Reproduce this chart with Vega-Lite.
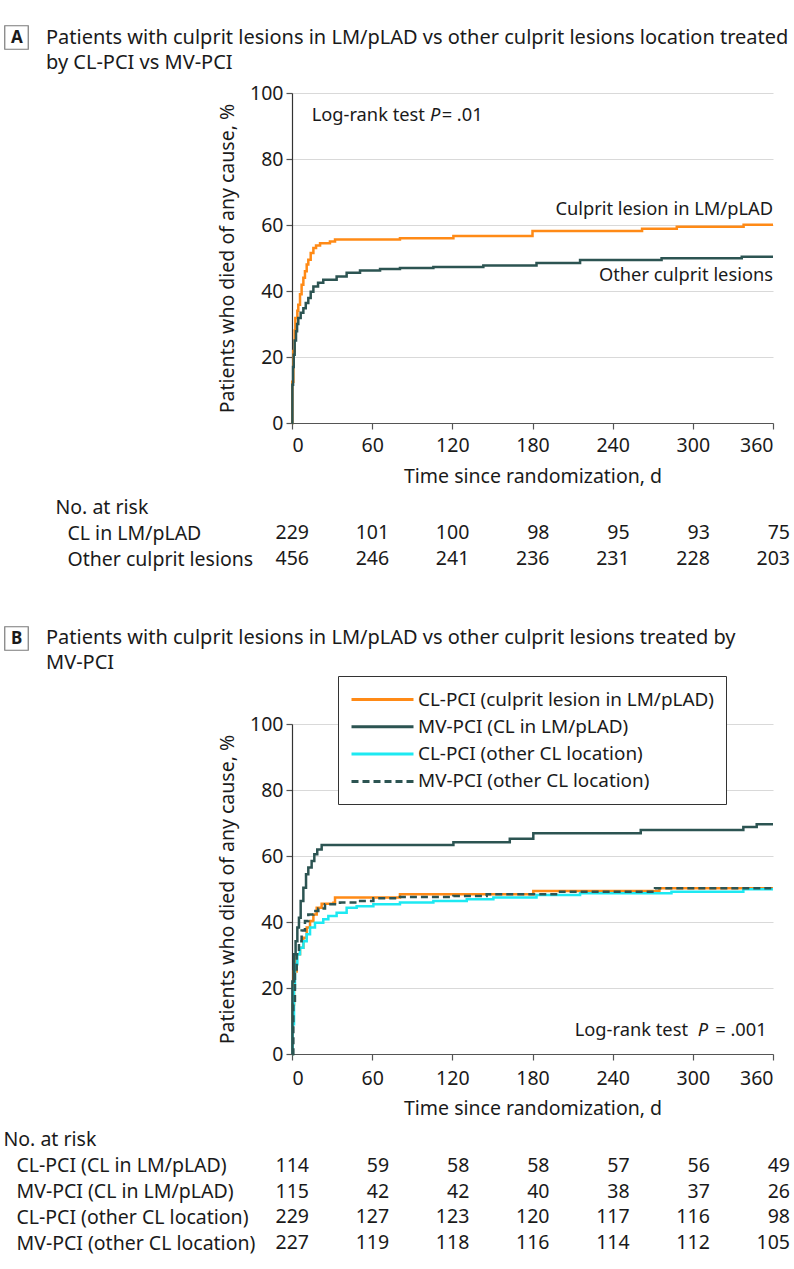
{
  "$schema": "https://vega.github.io/schema/vega-lite/v6.json",
  "background": "white",
  "padding": {"left": 3, "top": 25, "right": 5, "bottom": 5},
  "config": {
    "font": "Noto Sans",
    "view": {"stroke": null},
    "axis": {"labelFontSize": 19.5, "titleFontSize": 19.5, "titleFontWeight": "normal", "labelColor": "#1a1a1a", "titleColor": "#1a1a1a", "domainColor": "#555", "tickColor": "#555", "tickSize": 6, "gridColor": "#d9d9d9", "domainWidth": 1.2, "tickWidth": 1.2},
    "text": {"fontSize": 19.5, "color": "#1a1a1a"},
    "title": {"fontSize": 20, "fontWeight": "normal", "color": "#1a1a1a"},
    "legend": {"labelFontSize": 18.9, "labelColor": "#1a1a1a"}
  },
  "datasets": {
    "kmA": [
      {"group": "Culprit lesion in LM/pLAD", "day": 0, "pct": 0},
      {"group": "Culprit lesion in LM/pLAD", "day": 0.2, "pct": 12.5},
      {"group": "Culprit lesion in LM/pLAD", "day": 1, "pct": 21.8},
      {"group": "Culprit lesion in LM/pLAD", "day": 2, "pct": 28},
      {"group": "Culprit lesion in LM/pLAD", "day": 2.5, "pct": 31.8},
      {"group": "Culprit lesion in LM/pLAD", "day": 4, "pct": 34},
      {"group": "Culprit lesion in LM/pLAD", "day": 4.7, "pct": 35.8},
      {"group": "Culprit lesion in LM/pLAD", "day": 6, "pct": 39},
      {"group": "Culprit lesion in LM/pLAD", "day": 7.2, "pct": 41.9},
      {"group": "Culprit lesion in LM/pLAD", "day": 8.5, "pct": 44},
      {"group": "Culprit lesion in LM/pLAD", "day": 9.7, "pct": 46},
      {"group": "Culprit lesion in LM/pLAD", "day": 11, "pct": 48},
      {"group": "Culprit lesion in LM/pLAD", "day": 12.2, "pct": 49.5},
      {"group": "Culprit lesion in LM/pLAD", "day": 14, "pct": 51.5},
      {"group": "Culprit lesion in LM/pLAD", "day": 16, "pct": 53},
      {"group": "Culprit lesion in LM/pLAD", "day": 18, "pct": 53.8},
      {"group": "Culprit lesion in LM/pLAD", "day": 21, "pct": 54.5},
      {"group": "Culprit lesion in LM/pLAD", "day": 28.4, "pct": 55},
      {"group": "Culprit lesion in LM/pLAD", "day": 32.2, "pct": 55.6},
      {"group": "Culprit lesion in LM/pLAD", "day": 80.8, "pct": 56},
      {"group": "Culprit lesion in LM/pLAD", "day": 120.8, "pct": 56.7},
      {"group": "Culprit lesion in LM/pLAD", "day": 180, "pct": 58.2},
      {"group": "Culprit lesion in LM/pLAD", "day": 262, "pct": 58.9},
      {"group": "Culprit lesion in LM/pLAD", "day": 288, "pct": 59.5},
      {"group": "Culprit lesion in LM/pLAD", "day": 338, "pct": 60.1},
      {"group": "Culprit lesion in LM/pLAD", "day": 360, "pct": 60.1},
      {"group": "Other culprit lesions", "day": 0, "pct": 0},
      {"group": "Other culprit lesions", "day": 0.3, "pct": 11.6},
      {"group": "Other culprit lesions", "day": 0.8, "pct": 17},
      {"group": "Other culprit lesions", "day": 1.3, "pct": 20.7},
      {"group": "Other culprit lesions", "day": 2, "pct": 25},
      {"group": "Other culprit lesions", "day": 3, "pct": 27.8},
      {"group": "Other culprit lesions", "day": 3.8, "pct": 30},
      {"group": "Other culprit lesions", "day": 4.7, "pct": 31.8},
      {"group": "Other culprit lesions", "day": 6.5, "pct": 33.4},
      {"group": "Other culprit lesions", "day": 8.5, "pct": 34.8},
      {"group": "Other culprit lesions", "day": 10.3, "pct": 36.4},
      {"group": "Other culprit lesions", "day": 12.2, "pct": 37.9},
      {"group": "Other culprit lesions", "day": 14, "pct": 39.8},
      {"group": "Other culprit lesions", "day": 16, "pct": 41.4},
      {"group": "Other culprit lesions", "day": 19.5, "pct": 42.5},
      {"group": "Other culprit lesions", "day": 23.4, "pct": 43.4},
      {"group": "Other culprit lesions", "day": 33.4, "pct": 44.4},
      {"group": "Other culprit lesions", "day": 40.9, "pct": 45.5},
      {"group": "Other culprit lesions", "day": 50.9, "pct": 46.2},
      {"group": "Other culprit lesions", "day": 65.9, "pct": 46.7},
      {"group": "Other culprit lesions", "day": 80.8, "pct": 47},
      {"group": "Other culprit lesions", "day": 105.8, "pct": 47.3},
      {"group": "Other culprit lesions", "day": 143.2, "pct": 47.7},
      {"group": "Other culprit lesions", "day": 183, "pct": 48.5},
      {"group": "Other culprit lesions", "day": 215.6, "pct": 49.4},
      {"group": "Other culprit lesions", "day": 276.6, "pct": 49.9},
      {"group": "Other culprit lesions", "day": 336.6, "pct": 50.4},
      {"group": "Other culprit lesions", "day": 360, "pct": 50.4}
    ],
    "riskA": [
      {"group": "CL in LM/pLAD", "day": 0, "n": 229},
      {"group": "CL in LM/pLAD", "day": 60, "n": 101},
      {"group": "CL in LM/pLAD", "day": 120, "n": 100},
      {"group": "CL in LM/pLAD", "day": 180, "n": 98},
      {"group": "CL in LM/pLAD", "day": 240, "n": 95},
      {"group": "CL in LM/pLAD", "day": 300, "n": 93},
      {"group": "CL in LM/pLAD", "day": 360, "n": 75},
      {"group": "Other culprit lesions", "day": 0, "n": 456},
      {"group": "Other culprit lesions", "day": 60, "n": 246},
      {"group": "Other culprit lesions", "day": 120, "n": 241},
      {"group": "Other culprit lesions", "day": 180, "n": 236},
      {"group": "Other culprit lesions", "day": 240, "n": 231},
      {"group": "Other culprit lesions", "day": 300, "n": 228},
      {"group": "Other culprit lesions", "day": 360, "n": 203}
    ],
    "kmB": [
      {"group": "CL-PCI (culprit lesion in LM/pLAD)", "day": 0, "pct": 0},
      {"group": "CL-PCI (culprit lesion in LM/pLAD)", "day": 0.5, "pct": 15},
      {"group": "CL-PCI (culprit lesion in LM/pLAD)", "day": 1.5, "pct": 25},
      {"group": "CL-PCI (culprit lesion in LM/pLAD)", "day": 3.5, "pct": 30.2},
      {"group": "CL-PCI (culprit lesion in LM/pLAD)", "day": 6, "pct": 32.2},
      {"group": "CL-PCI (culprit lesion in LM/pLAD)", "day": 8.5, "pct": 35.2},
      {"group": "CL-PCI (culprit lesion in LM/pLAD)", "day": 11, "pct": 38.3},
      {"group": "CL-PCI (culprit lesion in LM/pLAD)", "day": 13.5, "pct": 40.3},
      {"group": "CL-PCI (culprit lesion in LM/pLAD)", "day": 16, "pct": 42.3},
      {"group": "CL-PCI (culprit lesion in LM/pLAD)", "day": 18.5, "pct": 44.3},
      {"group": "CL-PCI (culprit lesion in LM/pLAD)", "day": 22.2, "pct": 45.5},
      {"group": "CL-PCI (culprit lesion in LM/pLAD)", "day": 31, "pct": 45.8},
      {"group": "CL-PCI (culprit lesion in LM/pLAD)", "day": 32.2, "pct": 47.4},
      {"group": "CL-PCI (culprit lesion in LM/pLAD)", "day": 80.8, "pct": 48.4},
      {"group": "CL-PCI (culprit lesion in LM/pLAD)", "day": 180.6, "pct": 49.4},
      {"group": "CL-PCI (culprit lesion in LM/pLAD)", "day": 275, "pct": 50.2},
      {"group": "CL-PCI (culprit lesion in LM/pLAD)", "day": 360, "pct": 50.2},
      {"group": "CL-PCI (other CL location)", "day": 0, "pct": 0},
      {"group": "CL-PCI (other CL location)", "day": 0.5, "pct": 9},
      {"group": "CL-PCI (other CL location)", "day": 1.5, "pct": 20},
      {"group": "CL-PCI (other CL location)", "day": 2.2, "pct": 27.2},
      {"group": "CL-PCI (other CL location)", "day": 4, "pct": 30.2},
      {"group": "CL-PCI (other CL location)", "day": 6, "pct": 32.2},
      {"group": "CL-PCI (other CL location)", "day": 8.5, "pct": 34.2},
      {"group": "CL-PCI (other CL location)", "day": 11, "pct": 36.3},
      {"group": "CL-PCI (other CL location)", "day": 13.5, "pct": 38.3},
      {"group": "CL-PCI (other CL location)", "day": 17.2, "pct": 39.8},
      {"group": "CL-PCI (other CL location)", "day": 23.4, "pct": 40.8},
      {"group": "CL-PCI (other CL location)", "day": 27.2, "pct": 41.8},
      {"group": "CL-PCI (other CL location)", "day": 33.4, "pct": 42.8},
      {"group": "CL-PCI (other CL location)", "day": 40.9, "pct": 44.3},
      {"group": "CL-PCI (other CL location)", "day": 48.4, "pct": 44.8},
      {"group": "CL-PCI (other CL location)", "day": 60.9, "pct": 45.4},
      {"group": "CL-PCI (other CL location)", "day": 80.8, "pct": 45.9},
      {"group": "CL-PCI (other CL location)", "day": 105.8, "pct": 46.4},
      {"group": "CL-PCI (other CL location)", "day": 130.8, "pct": 46.9},
      {"group": "CL-PCI (other CL location)", "day": 150.7, "pct": 47.4},
      {"group": "CL-PCI (other CL location)", "day": 183, "pct": 48.2},
      {"group": "CL-PCI (other CL location)", "day": 215.6, "pct": 48.7},
      {"group": "CL-PCI (other CL location)", "day": 284, "pct": 49.2},
      {"group": "CL-PCI (other CL location)", "day": 337.8, "pct": 49.9},
      {"group": "CL-PCI (other CL location)", "day": 360, "pct": 49.9},
      {"group": "MV-PCI (other CL location)", "day": 0, "pct": 0},
      {"group": "MV-PCI (other CL location)", "day": 1, "pct": 15},
      {"group": "MV-PCI (other CL location)", "day": 2.2, "pct": 25.2},
      {"group": "MV-PCI (other CL location)", "day": 3.5, "pct": 30.2},
      {"group": "MV-PCI (other CL location)", "day": 5.2, "pct": 34.2},
      {"group": "MV-PCI (other CL location)", "day": 7.2, "pct": 37.4},
      {"group": "MV-PCI (other CL location)", "day": 9.7, "pct": 40.3},
      {"group": "MV-PCI (other CL location)", "day": 12.2, "pct": 42.3},
      {"group": "MV-PCI (other CL location)", "day": 16, "pct": 43.3},
      {"group": "MV-PCI (other CL location)", "day": 19.7, "pct": 44.1},
      {"group": "MV-PCI (other CL location)", "day": 24.7, "pct": 45.4},
      {"group": "MV-PCI (other CL location)", "day": 35.9, "pct": 45.9},
      {"group": "MV-PCI (other CL location)", "day": 48.4, "pct": 46.4},
      {"group": "MV-PCI (other CL location)", "day": 60.9, "pct": 47.2},
      {"group": "MV-PCI (other CL location)", "day": 80.8, "pct": 47.6},
      {"group": "MV-PCI (other CL location)", "day": 120.8, "pct": 47.9},
      {"group": "MV-PCI (other CL location)", "day": 145.7, "pct": 48.4},
      {"group": "MV-PCI (other CL location)", "day": 200.6, "pct": 49.2},
      {"group": "MV-PCI (other CL location)", "day": 271.7, "pct": 50.2},
      {"group": "MV-PCI (other CL location)", "day": 360, "pct": 50.2},
      {"group": "MV-PCI (CL in LM/pLAD)", "day": 0, "pct": 0},
      {"group": "MV-PCI (CL in LM/pLAD)", "day": 0.3, "pct": 22},
      {"group": "MV-PCI (CL in LM/pLAD)", "day": 1.7, "pct": 30.2},
      {"group": "MV-PCI (CL in LM/pLAD)", "day": 2.7, "pct": 34.2},
      {"group": "MV-PCI (CL in LM/pLAD)", "day": 4, "pct": 38.3},
      {"group": "MV-PCI (CL in LM/pLAD)", "day": 5.2, "pct": 41.3},
      {"group": "MV-PCI (CL in LM/pLAD)", "day": 6.5, "pct": 46.4},
      {"group": "MV-PCI (CL in LM/pLAD)", "day": 8.5, "pct": 50.4},
      {"group": "MV-PCI (CL in LM/pLAD)", "day": 10.5, "pct": 54.5},
      {"group": "MV-PCI (CL in LM/pLAD)", "day": 12.2, "pct": 56.5},
      {"group": "MV-PCI (CL in LM/pLAD)", "day": 14.7, "pct": 58.5},
      {"group": "MV-PCI (CL in LM/pLAD)", "day": 16.7, "pct": 60.5},
      {"group": "MV-PCI (CL in LM/pLAD)", "day": 18.9, "pct": 62},
      {"group": "MV-PCI (CL in LM/pLAD)", "day": 22.2, "pct": 63.3},
      {"group": "MV-PCI (CL in LM/pLAD)", "day": 120.8, "pct": 64.2},
      {"group": "MV-PCI (CL in LM/pLAD)", "day": 163, "pct": 65.2},
      {"group": "MV-PCI (CL in LM/pLAD)", "day": 180.6, "pct": 66.9},
      {"group": "MV-PCI (CL in LM/pLAD)", "day": 261, "pct": 67.9},
      {"group": "MV-PCI (CL in LM/pLAD)", "day": 337.8, "pct": 68.8},
      {"group": "MV-PCI (CL in LM/pLAD)", "day": 347.8, "pct": 69.6},
      {"group": "MV-PCI (CL in LM/pLAD)", "day": 360, "pct": 69.6}
    ],
    "riskB": [
      {"group": "CL-PCI (CL in LM/pLAD)", "day": 0, "n": 114},
      {"group": "CL-PCI (CL in LM/pLAD)", "day": 60, "n": 59},
      {"group": "CL-PCI (CL in LM/pLAD)", "day": 120, "n": 58},
      {"group": "CL-PCI (CL in LM/pLAD)", "day": 180, "n": 58},
      {"group": "CL-PCI (CL in LM/pLAD)", "day": 240, "n": 57},
      {"group": "CL-PCI (CL in LM/pLAD)", "day": 300, "n": 56},
      {"group": "CL-PCI (CL in LM/pLAD)", "day": 360, "n": 49},
      {"group": "MV-PCI (CL in LM/pLAD)", "day": 0, "n": 115},
      {"group": "MV-PCI (CL in LM/pLAD)", "day": 60, "n": 42},
      {"group": "MV-PCI (CL in LM/pLAD)", "day": 120, "n": 42},
      {"group": "MV-PCI (CL in LM/pLAD)", "day": 180, "n": 40},
      {"group": "MV-PCI (CL in LM/pLAD)", "day": 240, "n": 38},
      {"group": "MV-PCI (CL in LM/pLAD)", "day": 300, "n": 37},
      {"group": "MV-PCI (CL in LM/pLAD)", "day": 360, "n": 26},
      {"group": "CL-PCI (other CL location)", "day": 0, "n": 229},
      {"group": "CL-PCI (other CL location)", "day": 60, "n": 127},
      {"group": "CL-PCI (other CL location)", "day": 120, "n": 123},
      {"group": "CL-PCI (other CL location)", "day": 180, "n": 120},
      {"group": "CL-PCI (other CL location)", "day": 240, "n": 117},
      {"group": "CL-PCI (other CL location)", "day": 300, "n": 116},
      {"group": "CL-PCI (other CL location)", "day": 360, "n": 98},
      {"group": "MV-PCI (other CL location)", "day": 0, "n": 227},
      {"group": "MV-PCI (other CL location)", "day": 60, "n": 119},
      {"group": "MV-PCI (other CL location)", "day": 120, "n": 118},
      {"group": "MV-PCI (other CL location)", "day": 180, "n": 116},
      {"group": "MV-PCI (other CL location)", "day": 240, "n": 114},
      {"group": "MV-PCI (other CL location)", "day": 300, "n": 112},
      {"group": "MV-PCI (other CL location)", "day": 360, "n": 105}
    ]
  },
  "spacing": 54,
  "resolve": {"scale": {"color": "independent", "strokeDash": "independent"}, "legend": {"color": "independent", "strokeDash": "independent"}},
  "vconcat": [
    {
      "spacing": 8,
      "resolve": {"scale": {"color": "independent", "strokeDash": "independent"}, "legend": {"color": "independent", "strokeDash": "independent"}},
      "vconcat": [
        {
          "width": 481,
          "height": 330,
          "title": {"text": ["Patients with culprit lesions in LM/pLAD vs other culprit lesions location treated", "by CL-PCI vs MV-PCI"], "anchor": "start", "frame": "group", "dx": -246, "offset": -48, "lineHeight": 25},
          "resolve": {"scale": {"color": "independent", "strokeDash": "independent"}, "legend": {"color": "independent", "strokeDash": "independent"}},
          "layer": [
            {
              "data": {"name": "kmA"},
              "mark": {"type": "line", "interpolate": "step-after", "strokeWidth": 2.5},
              "encoding": {
                "x": {"field": "day", "type": "quantitative", "title": "Time since randomization, d", "scale": {"domain": [0, 360], "nice": false}, "axis": {"values": [0, 60, 120, 180, 240, 300, 360], "grid": false, "labelPadding": 7, "titlePadding": 13}},
                "y": {"field": "pct", "type": "quantitative", "title": "Patients who died of any cause, %", "scale": {"domain": [0, 100], "nice": false}, "axis": {"values": [0, 20, 40, 60, 80, 100], "grid": true, "labelPadding": 3, "titlePadding": 12, "domainColor": "#333"}},
                "color": {"field": "group", "type": "nominal", "scale": {"domain": ["Culprit lesion in LM/pLAD", "Other culprit lesions"], "range": ["#ff8a16", "#2c5452"]}, "legend": null}
              }
            },
            {
              "data": {"values": []},
              "mark": {"type": "point", "filled": false},
              "encoding": {
                "color": {"datum": "A", "type": "nominal", "scale": {"range": ["#444444"]}, "legend": {"title": null, "orient": "none", "legendX": -288, "legendY": -68, "padding": 0, "symbolType": "square", "symbolSize": 552, "symbolStrokeWidth": 1.2, "symbolFillColor": "white", "labelOffset": -18, "labelFontSize": 17, "labelFontWeight": "bold"}}
              }
            },
            {
              "data": {"values": [{}]},
              "mark": {"type": "text", "text": "Log-rank test", "align": "left", "baseline": "middle", "fontSize": 18.3},
              "encoding": {"x": {"datum": 14.7, "type": "quantitative"}, "y": {"datum": 93, "type": "quantitative"}}
            },
            {
              "data": {"values": [{}]},
              "mark": {"type": "text", "text": "P", "align": "left", "baseline": "middle", "fontStyle": "italic", "fontSize": 18.3},
              "encoding": {"x": {"datum": 103.3, "type": "quantitative"}, "y": {"datum": 93, "type": "quantitative"}}
            },
            {
              "data": {"values": [{}]},
              "mark": {"type": "text", "text": "= .01", "align": "left", "baseline": "middle", "fontSize": 18.3},
              "encoding": {"x": {"datum": 112, "type": "quantitative"}, "y": {"datum": 93, "type": "quantitative"}}
            },
            {
              "data": {"values": [{}]},
              "mark": {"type": "text", "text": "Culprit lesion in LM/pLAD", "align": "right", "baseline": "middle", "fontSize": 18.3},
              "encoding": {"x": {"datum": 360, "type": "quantitative"}, "y": {"datum": 64.6, "type": "quantitative"}}
            },
            {
              "data": {"values": [{}]},
              "mark": {"type": "text", "text": "Other culprit lesions", "align": "right", "baseline": "middle", "fontSize": 18.3},
              "encoding": {"x": {"datum": 360, "type": "quantitative"}, "y": {"datum": 44.4, "type": "quantitative"}}
            }
          ]
        },
        {
          "width": 481,
          "height": 78,
          "data": {"name": "riskA"},
          "mark": {"type": "text", "align": "right", "baseline": "middle", "dx": 17},
          "encoding": {
            "x": {"field": "day", "type": "quantitative", "scale": {"domain": [0, 360], "nice": false}, "axis": null},
            "y": {"field": "group", "type": "nominal", "title": null, "scale": {"domain": ["No. at risk", "CL in LM/pLAD", "Other culprit lesions"]}, "axis": {"domain": false, "ticks": false, "labelAlign": "left", "labelLimit": 300, "labelPadding": {"condition": {"test": "datum.value == 'No. at risk'", "value": 237}, "value": 225}}},
            "text": {"field": "n", "type": "quantitative"}
          }
        }
      ]
    },
    {
      "spacing": 9,
      "resolve": {"scale": {"color": "independent", "strokeDash": "independent"}, "legend": {"color": "independent", "strokeDash": "independent"}},
      "vconcat": [
        {
          "width": 481,
          "height": 330,
          "title": {"text": ["Patients with culprit lesions in LM/pLAD vs other culprit lesions treated by", "MV-PCI"], "anchor": "start", "frame": "group", "dx": -246, "offset": -47, "lineHeight": 25},
          "resolve": {"scale": {"color": "independent", "strokeDash": "independent"}, "legend": {"color": "independent", "strokeDash": "independent"}},
          "layer": [
            {
              "data": {"name": "kmB"},
              "mark": {"type": "line", "interpolate": "step-after", "strokeWidth": 2.5},
              "encoding": {
                "x": {"field": "day", "type": "quantitative", "title": "Time since randomization, d", "scale": {"domain": [0, 360], "nice": false}, "axis": {"values": [0, 60, 120, 180, 240, 300, 360], "grid": false, "labelPadding": 9, "titlePadding": 12}},
                "y": {"field": "pct", "type": "quantitative", "title": "Patients who died of any cause, %", "scale": {"domain": [0, 100], "nice": false}, "axis": {"values": [0, 20, 40, 60, 80, 100], "grid": true, "labelPadding": 3, "titlePadding": 12, "domainColor": "#333"}},
                "color": {"field": "group", "type": "nominal", "title": null, "scale": {"domain": ["CL-PCI (culprit lesion in LM/pLAD)", "MV-PCI (CL in LM/pLAD)", "CL-PCI (other CL location)", "MV-PCI (other CL location)"], "range": ["#ff8a16", "#2c5452", "#1de9f2", "#2c5452"]}, "legend": {"orient": "none", "legendX": 46, "legendY": -48, "strokeColor": "#333", "fillColor": "white", "padding": 12, "symbolType": "M-1,0H5.2", "symbolSize": 400, "symbolStrokeWidth": 3, "labelOffset": 45, "labelLimit": 400, "rowPadding": 5.3}},
                "strokeDash": {"field": "group", "type": "nominal", "title": null, "scale": {"domain": ["CL-PCI (culprit lesion in LM/pLAD)", "MV-PCI (CL in LM/pLAD)", "CL-PCI (other CL location)", "MV-PCI (other CL location)"], "range": [[1, 0], [1, 0], [1, 0], [7, 4]]}, "legend": {"orient": "none", "legendX": 46, "legendY": -48, "strokeColor": "#333", "fillColor": "white", "padding": 12, "symbolType": "M-1,0H5.2", "symbolSize": 400, "symbolStrokeWidth": 3, "labelOffset": 45, "labelLimit": 400, "rowPadding": 5.3}}
              }
            },
            {
              "data": {"values": []},
              "mark": {"type": "point", "filled": false},
              "encoding": {
                "color": {"datum": "B", "type": "nominal", "scale": {"range": ["#444444"]}, "legend": {"title": null, "orient": "none", "legendX": -288, "legendY": -98, "padding": 0, "symbolType": "square", "symbolSize": 552, "symbolStrokeWidth": 1.2, "symbolFillColor": "white", "labelOffset": -18, "labelFontSize": 17, "labelFontWeight": "bold"}}
              }
            },
            {
              "data": {"values": [{}]},
              "mark": {"type": "text", "text": "Log-rank test", "align": "right", "baseline": "middle", "fontSize": 18.3},
              "encoding": {"x": {"datum": 296.4, "type": "quantitative"}, "y": {"datum": 7, "type": "quantitative"}}
            },
            {
              "data": {"values": [{}]},
              "mark": {"type": "text", "text": "P", "align": "right", "baseline": "middle", "fontStyle": "italic", "fontSize": 18.3},
              "encoding": {"x": {"datum": 311.5, "type": "quantitative"}, "y": {"datum": 7, "type": "quantitative"}}
            },
            {
              "data": {"values": [{}]},
              "mark": {"type": "text", "text": "= .001", "align": "right", "baseline": "middle", "fontSize": 18.3},
              "encoding": {"x": {"datum": 355.3, "type": "quantitative"}, "y": {"datum": 7, "type": "quantitative"}}
            }
          ]
        },
        {
          "width": 481,
          "height": 129,
          "data": {"name": "riskB"},
          "mark": {"type": "text", "align": "right", "baseline": "middle", "dx": 17},
          "encoding": {
            "x": {"field": "day", "type": "quantitative", "scale": {"domain": [0, 360], "nice": false}, "axis": null},
            "y": {"field": "group", "type": "nominal", "title": null, "scale": {"domain": ["No. at risk", "CL-PCI (CL in LM/pLAD)", "MV-PCI (CL in LM/pLAD)", "CL-PCI (other CL location)", "MV-PCI (other CL location)"]}, "axis": {"domain": false, "ticks": false, "labelAlign": "left", "labelLimit": 300, "labelPadding": {"condition": {"test": "datum.value == 'No. at risk'", "value": 289}, "value": 276}}},
            "text": {"field": "n", "type": "quantitative"}
          }
        }
      ]
    }
  ]
}
